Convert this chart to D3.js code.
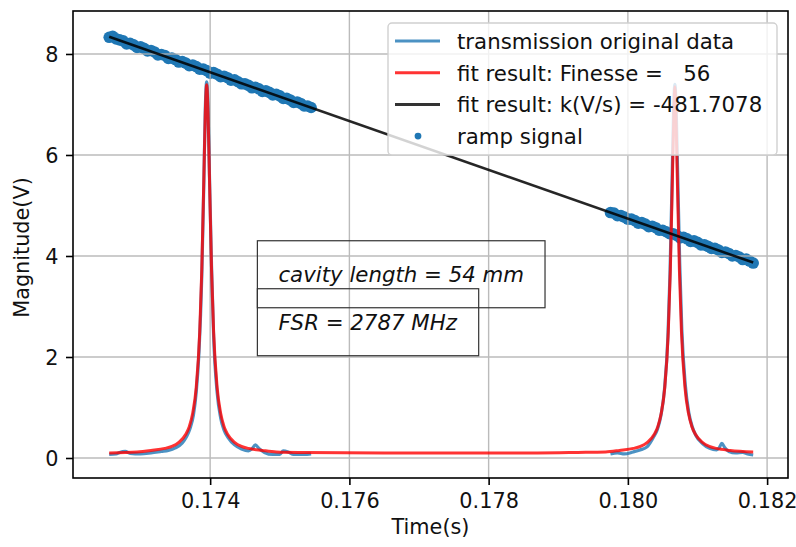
<!DOCTYPE html>
<html>
<head>
<meta charset="utf-8">
<script src="https://cdn.jsdelivr.net/npm/d3@7"></script>
<style>
  body { margin: 0; background: #fff; }
  svg text { font-family: "DejaVu Sans", sans-serif; fill: #111; }
</style>
</head>
<body>
<svg id="chart"></svg>
<script>
// ramp signal samples, [time (s), voltage (V)], first sweep
const rampSeg1 = [
  [0.17255, 8.33], [0.17260, 8.35], [0.17265, 8.30], [0.17270, 8.28], [0.17275, 8.26], [0.17280, 8.20],
  [0.17285, 8.21], [0.17290, 8.18], [0.17295, 8.13], [0.17300, 8.14], [0.17305, 8.11], [0.17310, 8.06],
  [0.17315, 8.07], [0.17320, 8.04], [0.17325, 7.98], [0.17330, 7.99], [0.17335, 7.97], [0.17340, 7.91],
  [0.17345, 7.92], [0.17350, 7.89], [0.17355, 7.84], [0.17360, 7.85], [0.17365, 7.82], [0.17370, 7.77],
  [0.17375, 7.78], [0.17380, 7.75], [0.17385, 7.70], [0.17390, 7.70], [0.17395, 7.67], [0.17400, 7.62],
  [0.17405, 7.63], [0.17410, 7.60], [0.17415, 7.55], [0.17420, 7.56], [0.17425, 7.53], [0.17430, 7.48],
  [0.17435, 7.49], [0.17440, 7.45], [0.17445, 7.41], [0.17450, 7.41], [0.17455, 7.38], [0.17460, 7.33],
  [0.17465, 7.34], [0.17470, 7.31], [0.17475, 7.26], [0.17480, 7.27], [0.17485, 7.24], [0.17490, 7.19],
  [0.17495, 7.20], [0.17500, 7.17], [0.17505, 7.12], [0.17510, 7.12], [0.17515, 7.09], [0.17520, 7.04],
  [0.17525, 7.05], [0.17530, 7.02], [0.17535, 6.97], [0.17540, 6.97], [0.17545, 6.94]
];
// ramp signal samples, second sweep
const rampSeg2 = [
  [0.17975, 4.86], [0.17980, 4.85], [0.17985, 4.80], [0.17990, 4.80], [0.17995, 4.77], [0.18000, 4.73],
  [0.18005, 4.73], [0.18010, 4.70], [0.18015, 4.65], [0.18020, 4.66], [0.18025, 4.63], [0.18030, 4.58],
  [0.18035, 4.59], [0.18040, 4.56], [0.18045, 4.51], [0.18050, 4.51], [0.18055, 4.48], [0.18060, 4.44],
  [0.18065, 4.44], [0.18070, 4.41], [0.18075, 4.36], [0.18080, 4.37], [0.18085, 4.34], [0.18090, 4.29],
  [0.18095, 4.30], [0.18100, 4.27], [0.18105, 4.22], [0.18110, 4.22], [0.18115, 4.19], [0.18120, 4.15],
  [0.18125, 4.15], [0.18130, 4.12], [0.18135, 4.07], [0.18140, 4.08], [0.18145, 4.05], [0.18150, 4.00],
  [0.18155, 4.01], [0.18160, 3.98], [0.18165, 3.93], [0.18170, 3.94], [0.18175, 3.90], [0.18180, 3.86]
];
// linear fit of the ramp, end points
const rampFit = [[0.17255, 8.34], [0.18180, 3.87]];

// transmission original data, two sweeps
const trans1 = [
  [0.17255, 0.07], [0.17265, 0.08], [0.17270, 0.11], [0.17278, 0.13], [0.17285, 0.09], [0.17300, 0.08],
  [0.17315, 0.10], [0.17330, 0.13], [0.17340, 0.15], [0.17350, 0.20], [0.17360, 0.30], [0.17366, 0.42],
  [0.17371, 0.58], [0.17376, 0.85], [0.17380, 1.30], [0.17384, 2.10], [0.17388, 3.60], [0.17391, 5.50],
  [0.17393, 6.90], [0.17395, 7.45], [0.17397, 6.90], [0.17399, 5.60], [0.17402, 3.80], [0.17405, 2.40],
  [0.17410, 1.30], [0.17415, 0.80], [0.17420, 0.55], [0.17426, 0.40], [0.17435, 0.26], [0.17445, 0.18],
  [0.17455, 0.14], [0.17460, 0.18], [0.17465, 0.26], [0.17470, 0.19], [0.17478, 0.11], [0.17490, 0.07],
  [0.17500, 0.07], [0.17505, 0.14], [0.17512, 0.12], [0.17520, 0.07], [0.17535, 0.07], [0.17545, 0.08]
];
const trans2 = [
  [0.17975, 0.08], [0.17985, 0.10], [0.17995, 0.08], [0.180075, 0.12], [0.180175, 0.16], [0.180275, 0.22],
  [0.180375, 0.43], [0.180425, 0.57], [0.180475, 0.84], [0.180525, 1.35], [0.180575, 2.40], [0.180605, 3.65],
  [0.180635, 5.50], [0.180655, 6.80], [0.180675, 7.40], [0.180695, 6.85], [0.180715, 5.65], [0.180745, 3.85],
  [0.180775, 2.55], [0.180825, 1.45], [0.180875, 0.90], [0.180925, 0.62], [0.180975, 0.45], [0.181075, 0.28],
  [0.181175, 0.19], [0.181275, 0.16], [0.18131, 0.20], [0.18135, 0.29], [0.18139, 0.21], [0.18145, 0.13],
  [0.18155, 0.10], [0.18165, 0.11], [0.18172, 0.08], [0.18180, 0.06]
];
// lorentzian fit result
const fitCurve = [
  [0.17255, 0.10], [0.17295, 0.12], [0.17315, 0.15], [0.17335, 0.19], [0.17345, 0.23], [0.17355, 0.31],
  [0.17365, 0.47], [0.17370, 0.62], [0.17375, 0.89], [0.17380, 1.40], [0.17385, 2.49], [0.17388, 3.73],
  [0.17391, 5.57], [0.17393, 6.82], [0.17395, 7.39], [0.17397, 6.82], [0.17399, 5.57], [0.17402, 3.73],
  [0.17405, 2.49], [0.17410, 1.40], [0.17415, 0.89], [0.17420, 0.62], [0.17425, 0.47], [0.17435, 0.31],
  [0.17445, 0.23], [0.17455, 0.19], [0.17475, 0.15], [0.17495, 0.12], [0.17535, 0.11], [0.17650, 0.10],
  [0.17720, 0.10], [0.17870, 0.10], [0.17928, 0.11], [0.17968, 0.12], [0.17988, 0.15], [0.18008, 0.19],
  [0.18018, 0.23], [0.18028, 0.31], [0.18038, 0.47], [0.18043, 0.62], [0.18048, 0.89], [0.18053, 1.40],
  [0.18058, 2.49], [0.18061, 3.73], [0.18064, 5.55], [0.18066, 6.78], [0.180675, 7.35], [0.18069, 6.78],
  [0.18071, 5.55], [0.18074, 3.73], [0.18077, 2.49], [0.18082, 1.40], [0.18087, 0.89], [0.18092, 0.62],
  [0.18097, 0.47], [0.18107, 0.31], [0.18117, 0.23], [0.18127, 0.19], [0.18147, 0.15], [0.18180, 0.12]
];

const xTicks = [0.174, 0.176, 0.178, 0.180, 0.182];
const yTicks = [0, 2, 4, 6, 8];
const legendLabels = [
  'transmission original data',
  'fit result: Finesse =   56',
  'fit result: k(V/s) = -481.7078',
  'ramp signal'
];
const notes = [
  {text: 'cavity length = 54 mm', t: 0.17498, v: 3.49},
  {text: 'FSR = 2787 MHz', t: 0.17498, v: 2.54}
];

const WIDTH = 796;
const HEIGHT = 547;
const BOX = {left: 73, right: 788, top: 11, bottom: 478};
const FONT = 20.8;
const FONT_LEG = 21.3;

const BLUE = '#1f77b4';
const RED = '#ff0000';

const svg = d3.select('#chart')
.attr('width', WIDTH)
.attr('height', HEIGHT);

const x = d3.scaleLinear().domain([0.17203, 0.18230]).range([BOX.left, BOX.right]);
const y = d3.scaleLinear().domain([-0.396, 8.851]).range([BOX.bottom, BOX.top]);

const line = d3.line().curve(d3.curveMonotoneX).x(d => x(d[0])).y(d => y(d[1]));

// scatter sits below the grid, as in matplotlib
svg.append('g')
.selectAll('circle')
.data(rampSeg1.concat(rampSeg2))
.enter()
.append('circle')
.attr('cx', d => x(d[0]))
.attr('cy', d => y(d[1]))
.attr('r', 5.8)
.attr('fill', BLUE);

const grid = svg.append('g').attr('stroke', '#b0b0b0').attr('stroke-width', 1.4).attr('opacity', 0.85);
grid.selectAll('.gx').data(xTicks).enter().append('line')
.attr('x1', d => x(d)).attr('x2', d => x(d))
.attr('y1', BOX.top).attr('y2', BOX.bottom);
grid.selectAll('.gy').data(yTicks).enter().append('line')
.attr('y1', d => y(d)).attr('y2', d => y(d))
.attr('x1', BOX.left).attr('x2', BOX.right);

[trans1, trans2].forEach(seg => {
  svg.append('path')
  .datum(seg)
  .attr('d', line)
  .attr('fill', 'none')
  .attr('stroke', BLUE)
  .attr('stroke-opacity', 0.8)
  .attr('stroke-width', 3.2)
  .attr('stroke-linejoin', 'round');
});

svg.append('path')
.datum(fitCurve)
.attr('d', line)
.attr('fill', 'none')
.attr('stroke', RED)
.attr('stroke-opacity', 0.8)
.attr('stroke-width', 3)
.attr('stroke-linejoin', 'round');

svg.append('path')
.datum(rampFit)
.attr('d', line)
.attr('fill', 'none')
.attr('stroke', '#000')
.attr('stroke-opacity', 0.85)
.attr('stroke-width', 2.6);

// annotation boxes
const PAD = 21;
notes.forEach(n => {
  const g = svg.append('g');
  const txt = g.append('text')
  .attr('x', x(n.t))
  .attr('y', y(n.v))
  .attr('font-size', FONT_LEG)
  .attr('font-style', 'italic')
  .text(n.text);
  const bb = txt.node().getBBox();
  g.insert('rect', 'text')
  .attr('x', bb.x - PAD)
  .attr('y', bb.y - PAD)
  .attr('width', bb.width + 2 * PAD)
  .attr('height', bb.height + 2 * PAD)
  .attr('fill', 'none')
  .attr('stroke', '#333')
  .attr('stroke-width', 1.2);
});

// axes
const xAxis = svg.append('g')
.attr('transform', `translate(0, ${BOX.bottom})`)
.call(d3.axisBottom(x).tickValues(xTicks).tickFormat(d3.format('.3f')).tickSize(7).tickPadding(8));
const yAxis = svg.append('g')
.attr('transform', `translate(${BOX.left}, 0)`)
.call(d3.axisLeft(y).tickValues(yTicks).tickFormat(d3.format('d')).tickSize(7).tickPadding(7.5));
[xAxis, yAxis].forEach(a => {
  a.select('.domain').remove();
  a.selectAll('.tick line').attr('stroke', '#000').attr('stroke-width', 1.6);
  a.selectAll('.tick text')
  .attr('font-size', FONT)
  .attr('font-family', '"DejaVu Sans", sans-serif')
  .attr('fill', '#111');
});
yAxis.selectAll('.tick text').attr('dy', '0.36em');

svg.append('rect')
.attr('x', BOX.left)
.attr('y', BOX.top)
.attr('width', BOX.right - BOX.left)
.attr('height', BOX.bottom - BOX.top)
.attr('fill', 'none')
.attr('stroke', '#000')
.attr('stroke-width', 1.6);

svg.append('text')
.attr('x', (BOX.left + BOX.right) / 2)
.attr('y', 534)
.attr('text-anchor', 'middle')
.attr('font-size', FONT)
.text('Time(s)');

svg.append('text')
.attr('transform', `translate(29, ${(BOX.top + BOX.bottom) / 2 + 3}) rotate(-90)`)
.attr('text-anchor', 'middle')
.attr('font-size', FONT)
.text('Magnitude(V)');

// legend
const LEG = {x: 388, y: 23, w: 389, h: 132, rowY: 49, rowStep: 31.7};
const legend = svg.append('g');
legend.append('rect')
.attr('x', LEG.x).attr('y', LEG.y)
.attr('width', LEG.w).attr('height', LEG.h)
.attr('rx', 4)
.attr('fill', '#fff')
.attr('fill-opacity', 0.8)
.attr('stroke', '#d0d0d0')
.attr('stroke-width', 1.4);

const handles = [
  {type: 'line', color: BLUE, op: 0.8},
  {type: 'line', color: RED, op: 0.8},
  {type: 'line', color: '#000', op: 0.8},
  {type: 'dot', color: BLUE, op: 1}
];
const rows = legend.selectAll('.row')
.data(legendLabels)
.enter()
.append('g')
.attr('transform', (d, i) => `translate(0, ${LEG.rowY + i * LEG.rowStep})`);

rows.each(function (d, i) {
  const r = d3.select(this);
  const h = handles[i];
  if (h.type === 'line') {
    r.append('line')
    .attr('x1', 395).attr('x2', 440)
    .attr('y1', -8).attr('y2', -8)
    .attr('stroke', h.color)
    .attr('stroke-opacity', h.op)
    .attr('stroke-width', 3);
  } else {
    r.append('circle')
    .attr('cx', 418).attr('cy', -8)
    .attr('r', 3.4)
    .attr('fill', h.color);
  }
  r.append('text')
  .attr('x', 457)
  .attr('y', 0)
  .attr('font-size', FONT_LEG)
  .style('white-space', 'pre')
  .text(d);
});
</script>
</body>
</html>
